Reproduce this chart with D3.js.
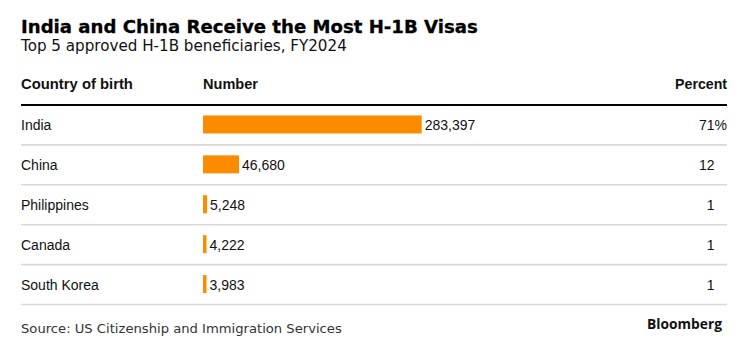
<!DOCTYPE html>
<html>
<head>
<meta charset="utf-8">
<script src="https://cdn.jsdelivr.net/npm/d3@7"></script>
<style>
  html, body { margin: 0; padding: 0; background: #fff; }
  svg { display: block; }
</style>
</head>
<body>
<svg id="chart" width="749" height="357"></svg>
<script>
const countries = ["India", "China", "Philippines", "Canada", "South Korea"];
const numbers = [283397, 46680, 5248, 4222, 3983];
const percents = [71, 12, 1, 1, 1];
const headers = ["Country of birth", "Number", "Percent"];
const titleText = "India and China Receive the Most H-1B Visas";
const subtitleText = "Top 5 approved H-1B beneficiaries, FY2024";
const sourceText = "Source: US Citizenship and Immigration Services";
const brandText = "Bloomberg";

const svg = d3.select("#chart");
const left = 21, right = 727;
const barX0 = 203;
const headerLineY = 105, rowH = 39.9;

function fit(sel, target) {
  const node = sel.node();
  const w = node.getComputedTextLength();
  const fs = parseFloat(sel.attr("font-size"));
  if (w > 0) sel.attr("font-size", (fs * target / w).toFixed(2));
  return sel;
}

const serif = "Verdana, 'DejaVu Sans', sans-serif";
const arial = "Arial, 'Liberation Sans', Helvetica, sans-serif";

// Title
fit(svg.append("text").attr("x", left).attr("y", 33)
  .attr("font-family", serif).attr("font-weight", "bold").attr("font-size", 17)
  .attr("fill", "#000").attr("stroke", "#000").attr("stroke-width", 0.3)
  .text(titleText), 457);

// Subtitle
fit(svg.append("text").attr("x", left).attr("y", 50.5)
  .attr("font-family", serif).attr("font-size", 14)
  .attr("fill", "#111").text(subtitleText), 326);

// Headers
const hdrY = 88.5;
fit(svg.append("text").attr("x", left).attr("y", hdrY)
  .attr("font-family", arial).attr("font-weight", "bold").attr("font-size", 13)
  .attr("fill", "#111").text(headers[0]), 112);
fit(svg.append("text").attr("x", barX0).attr("y", hdrY)
  .attr("font-family", arial).attr("font-weight", "bold").attr("font-size", 13.5)
  .attr("fill", "#111").text(headers[1]), 55);
fit(svg.append("text").attr("x", right).attr("y", hdrY).attr("text-anchor", "end")
  .attr("font-family", arial).attr("font-weight", "bold").attr("font-size", 13.5)
  .attr("fill", "#111").text(headers[2]), 52);

// Scales
const y = d3.scaleBand().domain(countries)
  .range([headerLineY, headerLineY + rowH * countries.length]).paddingInner(0).paddingOuter(0);
const x = d3.scaleLinear().domain([0, 283397]).range([barX0, 421.7]);

// Row separators
svg.selectAll("line.sep").data(countries).join("line")
  .attr("class", "sep")
  .attr("x1", left).attr("x2", right)
  .attr("y1", d => y(d) + y.bandwidth()).attr("y2", d => y(d) + y.bandwidth())
  .attr("stroke", "#d9d9d9").attr("stroke-width", 1.6);

// Header line
svg.append("line").attr("x1", left).attr("x2", right)
  .attr("y1", headerLineY).attr("y2", headerLineY)
  .attr("stroke", "#000").attr("stroke-width", 2);

const rows = countries.map((c, i) => ({ c, n: numbers[i], p: percents[i], i }));

// Country labels
svg.selectAll("text.country").data(rows).join("text")
  .attr("class", "country")
  .attr("x", left).attr("y", d => y(d.c) + y.bandwidth() / 2 + 5)
  .attr("font-family", arial).attr("font-size", 14).attr("fill", "#111")
  .text(d => d.c);

// Bars
const barH = 18;
svg.selectAll("rect.bar").data(rows).join("rect")
  .attr("class", "bar")
  .attr("x", x(0)).attr("y", d => y(d.c) + y.bandwidth() / 2 - barH / 2 - 0.5)
  .attr("width", d => Math.max(3.5, x(d.n) - x(0))).attr("height", barH)
  .attr("fill", "#fb8c00");

// Value labels
const fmt = d3.format(",");
svg.selectAll("text.val").data(rows).join("text")
  .attr("class", "val")
  .attr("x", d => Math.max(x(0) + 3.5, x(d.n)) + 3).attr("y", d => y(d.c) + y.bandwidth() / 2 + 5)
  .attr("font-family", arial).attr("font-size", 14).attr("fill", "#111")
  .text(d => fmt(d.n));

// Percent labels
const pct = svg.selectAll("text.pct").data(rows).join("text")
  .attr("class", "pct")
  .attr("x", right).attr("y", d => y(d.c) + y.bandwidth() / 2 + 5)
  .attr("text-anchor", "end")
  .attr("font-family", arial).attr("font-size", 14).attr("fill", "#111");
pct.append("tspan").text(d => d.p);
pct.append("tspan").text("%").attr("fill-opacity", d => d.i === 0 ? 1 : 0);

// Source
fit(svg.append("text").attr("x", left).attr("y", 333)
  .attr("font-family", serif).attr("font-size", 13)
  .attr("fill", "#333").text(sourceText), 321);

// Brand
fit(svg.append("text").attr("x", 722).attr("y", 329).attr("text-anchor", "end")
  .attr("font-family", "'Open Sans', 'Noto Sans', sans-serif").attr("font-weight", "bold").attr("font-size", 13)
  .attr("fill", "#111").text(brandText), 75);
</script>
</body>
</html>
